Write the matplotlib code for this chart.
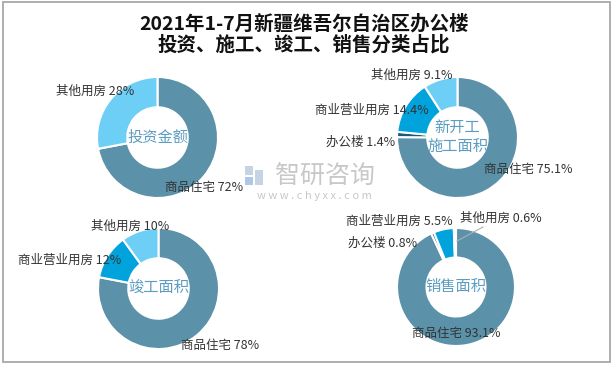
import matplotlib
matplotlib.use('Agg')
import matplotlib.pyplot as plt
from matplotlib.patches import Rectangle

plt.rcParams['font.family'] = ['Noto Sans CJK SC', 'DejaVu Sans']

# data
title = '2021年1-7月新疆维吾尔自治区办公楼\n投资、施工、竣工、销售分类占比'
chart_names = ['投资金额', '新开工\n施工面积', '竣工面积', '销售面积']

cats_invest = ['商品住宅', '其他用房']
vals_invest = [72, 28]

cats_start = ['商品住宅', '办公楼', '商业营业用房', '其他用房']
vals_start = [75.1, 1.4, 14.4, 9.1]

cats_done = ['商品住宅', '商业营业用房', '其他用房']
vals_done = [78, 12, 10]

cats_sale = ['商品住宅', '办公楼', '商业营业用房', '其他用房']
vals_sale = [93.1, 0.8, 5.5, 0.6]

colors = {'商品住宅': '#5b91a9', '其他用房': '#6dcff6',
          '商业营业用房': '#00a3dc', '办公楼': '#175a7b'}

# layout: donut centers / radii (pixels) and label offsets from center
centers = [(157.5, 137.5), (457.5, 137.5), (158.5, 288.5), (456, 287)]
radii = [60.5, 60.5, 60.5, 59]
label_offsets = [
    [(47, 50), (-62, -46)],
    [(71, 32), (-97, 5), (-86, -27), (-46, -62)],
    [(62, 57), (-89, -28), (-28, -62)],
    [(0, 47), (-73, -44), (-57, -66), (45, -69)],
]

fig = plt.figure(figsize=(6.16, 3.68), dpi=100)
ax = fig.add_axes([0, 0, 1, 1])

series = [(cats_invest, vals_invest), (cats_start, vals_start),
          (cats_done, vals_done), (cats_sale, vals_sale)]

# watermark (drawn first so the donuts sit on top)
ax.add_patch(Rectangle((245, 166), 8, 9, color='#c5d3e3', lw=0))
ax.add_patch(Rectangle((255, 170), 8, 15, color='#c5d3e3', lw=0))
ax.add_patch(Rectangle((245, 177), 8, 8, color='#aec7e4', lw=0))
ax.text(325, 176, '智研咨询', ha='center', va='center', fontsize=18,
        color='#c8c8c8', fontweight='light')
ax.text(314, 196, 'w w w . c h y x x . c o m', ha='center', va='center',
        fontsize=8, color='#c8c8c8')

for i, (cats, vals) in enumerate(series):
    c = centers[i]
    r = radii[i]
    wedges, _ = ax.pie(vals, colors=[colors[k] for k in cats], startangle=-90,
                       counterclock=True, center=c, radius=r, frame=True,
                       wedgeprops=dict(width=r * 0.5, edgecolor='white', linewidth=1.5))
    for j, (k, v) in enumerate(zip(cats, vals)):
        dx, dy = label_offsets[i][j]
        ax.text(c[0] + dx, c[1] + dy, f'{k} {v:g}%', ha='center', va='center',
                fontsize=9, color='#333333')
    ax.text(c[0], c[1], chart_names[i], ha='center', va='center', fontsize=11,
            color='#5b9cc0', linespacing=1.2)

# leader line for the tiny slice in the sales chart
ax.plot([457, 483], [241, 227], color='#b0b0b0', lw=0.8)

ax.text(304, 34, title, ha='center', va='center', fontsize=14, fontweight='bold',
        color='#111111', linespacing=1.05)

ax.add_patch(Rectangle((3, 2), 607, 360, fill=False, edgecolor='#a8a8a8', lw=1.3))

ax.set_xlim(0, 616)
ax.set_ylim(368, 0)
ax.set_aspect('equal')
ax.axis('off')

fig.savefig('out.png', dpi=100)
